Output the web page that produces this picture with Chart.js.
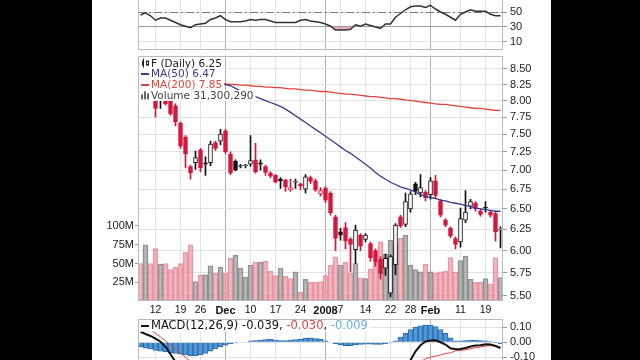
<!DOCTYPE html>
<html>
<head>
<meta charset="utf-8">
<script src="https://cdn.jsdelivr.net/npm/chart.js@4.4.1/dist/chart.umd.min.js"></script>
<style>
html, body { margin: 0; padding: 0; background: #000; width: 640px; height: 360px; overflow: hidden; }
#strip { position: absolute; left: 92px; top: 0; width: 459px; height: 360px; background: #fff; overflow: hidden; }
canvas { position: absolute; left: 0; }
#rsi { top: -35px; }
#price { top: 46px; }
#macd { top: 309px; }
</style>
</head>
<body>
<div id="strip">
  <canvas id="rsi" width="459" height="94"></canvas>
  <canvas id="price" width="459" height="272"></canvas>
  <canvas id="macd" width="459" height="70"></canvas>
</div>
<script>
// trading days, Nov 7 2007 - Feb 22 2008
const days = [
  'Nov 7','Nov 8','Nov 9','Nov 12','Nov 13','Nov 14','Nov 15','Nov 16','Nov 19','Nov 20','Nov 21','Nov 23',
  'Nov 26','Nov 27','Nov 28','Nov 29','Nov 30',
  'Dec 3','Dec 4','Dec 5','Dec 6','Dec 7','Dec 10','Dec 11','Dec 12','Dec 13','Dec 14','Dec 17','Dec 18',
  'Dec 19','Dec 20','Dec 21','Dec 24','Dec 26','Dec 27','Dec 28','Dec 31',
  'Jan 2','Jan 3','Jan 4','Jan 7','Jan 8','Jan 9','Jan 10','Jan 11','Jan 14','Jan 15','Jan 16','Jan 17',
  'Jan 18','Jan 22','Jan 23','Jan 24','Jan 25','Jan 28','Jan 29','Jan 30','Jan 31',
  'Feb 1','Feb 4','Feb 5','Feb 6','Feb 7','Feb 8','Feb 11','Feb 12','Feb 13','Feb 14','Feb 15','Feb 19',
  'Feb 20','Feb 21','Feb 22'
];
const tickDays = ['Nov 12','Nov 19','Nov 26','Dec 3','Dec 10','Dec 17','Dec 24','Jan 2','Jan 7','Jan 14','Jan 22','Jan 28','Feb 1','Feb 11','Feb 19'];
const tickText = ['12','19','26','Dec','10','17','24','2008','7','14','22','28','Feb','11','19'];
const boldTicks = ['Dec','2008','Feb'];

const open = [8.45,8.30,8.30,8.02,8.02,8.02,8.00,7.92,7.66,7.46,7.05,7.10,7.28,7.10,7.10,7.38,7.40,7.55,7.22,7.12,
  7.05,7.06,7.08,7.14,7.10,7.05,6.96,6.93,6.88,6.87,6.74,6.84,6.82,6.75,6.90,6.86,6.69,6.76,6.70,6.40,
  6.22,6.27,6.13,6.01,6.18,6.13,6.08,6.00,5.90,5.80,5.53,5.84,6.40,6.31,6.50,6.82,6.70,6.71,6.68,6.86,
  6.60,6.36,6.26,6.14,6.10,6.36,6.53,6.57,6.47,6.52,6.46,6.44,6.24];
const high = [8.52,8.40,8.35,8.03,8.03,8.03,8.02,7.95,7.68,7.48,7.07,7.26,7.30,7.18,7.40,7.40,7.57,7.57,7.25,7.14,
  7.08,7.08,7.48,7.37,7.14,7.07,6.98,6.94,6.90,6.88,6.88,6.88,6.83,6.94,6.92,6.88,6.77,6.78,6.72,6.42,
  6.26,6.33,6.15,6.30,6.20,6.20,6.10,6.02,5.93,5.96,5.95,6.32,6.42,6.70,6.72,6.84,6.94,6.73,6.90,6.93,
  6.62,6.38,6.28,6.16,6.51,6.73,6.62,6.59,6.50,6.59,6.48,6.46,6.28];
const low = [8.28,8.22,8.05,7.75,7.88,7.93,7.78,7.62,7.30,7.03,6.88,7.01,6.98,6.93,7.06,7.27,7.35,7.23,6.94,6.99,
  7.03,7.03,7.05,6.96,7.00,6.93,6.90,6.83,6.76,6.72,6.72,6.76,6.74,6.70,6.82,6.72,6.66,6.58,6.42,6.00,
  6.12,6.02,5.76,5.85,6.00,6.10,5.88,5.82,5.68,5.72,5.49,5.73,6.27,6.28,6.46,6.68,6.65,6.60,6.62,6.64,
  6.40,6.28,6.15,6.02,6.04,6.33,6.50,6.47,6.41,6.46,6.40,6.11,6.03];
const close = [8.32,8.36,8.10,7.88,8.00,7.95,7.80,7.68,7.33,7.22,6.96,7.17,7.03,7.08,7.36,7.30,7.50,7.25,6.96,7.00,
  7.06,7.07,7.13,6.98,7.08,6.97,6.92,6.84,6.86,6.78,6.77,6.85,6.79,6.91,6.85,6.74,6.73,6.61,6.45,6.14,
  6.18,6.11,6.07,6.24,6.05,6.18,5.92,5.87,5.74,5.91,5.93,6.30,6.29,6.59,6.69,6.72,6.77,6.64,6.86,6.67,
  6.42,6.30,6.17,6.07,6.38,6.46,6.59,6.50,6.43,6.51,6.42,6.22,6.25];
// volume in millions
const volume = [50,75,50,70,49,50,42,45,50,65,75,26,35,35,47,37,45,37,57,61,44,32,48,52,52,53,40,34,44,33,
  30,39,12,29,25,25,26,34,48,59,48,52,37,50,31,30,43,52,79,63,81,75,84,88,48,42,39,49,39,37,
  39,40,58,39,54,60,29,25,25,30,23,58,31.3];
const ma50 = [null,null,null,null,null,null,null,null,null,null,null,null,null,null,
  8.28,8.27,8.26,8.25,8.23,8.19,8.15,8.12,8.09,8.06,8.03,8.00,7.97,7.94,7.91,7.87,7.82,7.77,7.72,7.67,
  7.62,7.57,7.52,7.47,7.42,7.37,7.32,7.27,7.23,7.18,7.13,7.08,7.03,6.97,6.92,6.88,6.84,6.81,6.78,6.76,
  6.74,6.71,6.68,6.66,6.64,6.63,6.61,6.60,6.58,6.57,6.56,6.54,6.53,6.51,6.50,6.49,6.48,6.47,6.47];
const ma200 = [null,null,null,null,null,null,null,null,null,null,null,null,null,null,
  8.27,8.27,8.26,8.26,8.25,8.25,8.24,8.24,8.23,8.22,8.22,8.21,8.21,8.20,8.20,8.19,8.18,8.18,8.17,8.16,
  8.16,8.15,8.14,8.14,8.13,8.12,8.11,8.10,8.10,8.09,8.08,8.07,8.06,8.06,8.05,8.04,8.03,8.03,8.02,8.01,
  8.00,7.99,7.98,7.97,7.96,7.95,7.94,7.94,7.93,7.92,7.91,7.90,7.89,7.88,7.88,7.87,7.86,7.85,7.85];
const rsi = [46,49,45,39,42,42,39,36,33,31,29,33,34,35,40,42,45,40,37,37,37,38,40,39,40,40,38,36,36,36,
  36,36,39,40,38,37,36,34,31,26,26,26,27,33,31,34,32,30,28,34,34,43,48,53,57,58,58,56,59,54,
  50,47,43,39,47,50,53,51,51,51,47,45,45];
const macd = [0.07,0.055,0.042,0.025,0.004,-0.03,-0.08,-0.13,-0.18,-0.22,-0.26,-0.29,-0.31,-0.32,-0.32,-0.32,
  -0.32,-0.32,-0.32,-0.32,-0.31,-0.31,-0.30,-0.30,-0.29,-0.29,-0.29,-0.29,-0.29,-0.29,-0.28,-0.28,-0.27,-0.26,
  -0.26,-0.26,-0.26,-0.27,-0.28,-0.30,-0.31,-0.32,-0.33,-0.33,-0.33,-0.33,-0.34,-0.35,-0.36,-0.36,-0.35,-0.32,
  -0.25,-0.18,-0.12,-0.06,-0.02,0.005,0.012,0.013,0.0,-0.015,-0.04,-0.047,-0.045,-0.038,-0.028,-0.022,-0.02,
  -0.014,-0.015,-0.025,-0.039];
const signal = [0.10,0.09,0.08,0.06,0.035,0.01,-0.02,-0.045,-0.075,-0.10,-0.13,-0.16,-0.19,-0.22,-0.24,-0.26,
  -0.27,-0.28,-0.29,-0.30,-0.30,-0.31,-0.31,-0.31,-0.305,-0.31,-0.31,-0.305,-0.30,-0.30,-0.295,-0.30,-0.29,-0.29,
  -0.29,-0.285,-0.28,-0.28,-0.28,-0.29,-0.29,-0.30,-0.31,-0.31,-0.315,-0.32,-0.33,-0.335,-0.345,-0.35,-0.345,
  -0.33,-0.285,-0.24,-0.205,-0.16,-0.13,-0.11,-0.10,-0.092,-0.085,-0.075,-0.07,-0.057,-0.055,-0.05,-0.043,
  -0.037,-0.032,-0.026,-0.022,-0.024,-0.030];
const hist = [-0.03,-0.04,-0.045,-0.055,-0.06,-0.065,-0.07,-0.075,-0.08,-0.085,-0.09,-0.09,-0.085,-0.075,-0.06,
  -0.045,-0.03,-0.02,-0.01,-0.005,0.0,0.0,0.01,0.012,0.015,0.018,0.02,0.015,0.012,0.012,0.015,0.018,0.022,
  0.028,0.03,0.025,0.02,0.01,0.0,-0.01,-0.018,-0.022,-0.022,-0.018,-0.015,-0.012,-0.012,-0.015,-0.015,-0.01,
  -0.005,0.01,0.035,0.06,0.085,0.1,0.11,0.115,0.115,0.105,0.085,0.06,0.03,0.01,0.01,0.012,0.015,0.015,0.012,
  0.01,0.005,-0.002,-0.009];

Chart.defaults.font.family = '"Liberation Sans", Arial, sans-serif';
Chart.defaults.font.size = 11;
Chart.defaults.color = '#222';
Chart.defaults.animation = false;
Chart.defaults.plugins.legend.display = false;
Chart.defaults.plugins.tooltip.enabled = false;

const tickIdx = tickDays.map(d => days.indexOf(d));
const isUp = close.map((c, i) => i === 0 ? c >= open[0] : c >= close[i - 1]);
const ink = isUp.map(u => u ? '#111' : '#d4163c');
const bodyFill = close.map((c, i) => c > open[i] ? '#fff' : ink[i]);

function xAxis(labels) {
  return {
    type: 'category',
    offset: true,
    border: { display: false },
    grid: {
      offset: false,
      drawTicks: false,
      color: c => boldTicks.includes(tickText[c.index]) ? '#b0b0b0' : '#e2e2e2'
    },
    ticks: {
      display: labels,
      autoSkip: false,
      maxRotation: 0,
      padding: 3,
      color: '#111',
      callback: (v, k) => tickText[k],
      font: c => boldTicks.includes(tickText[c.index]) ? { size: 11, weight: 'bold' } : { size: 10.5 }
    },
    afterBuildTicks: s => { s.ticks = tickIdx.map(i => ({ value: i })); },
    afterFit: s => { s.height = labels ? 17 : 0; }
  };
}

function rightAxis(tickVals, fmt, extra) {
  return Object.assign({
    position: 'right',
    border: { display: false },
    grid: { color: '#e2e2e2', tickLength: 4, tickColor: '#999' },
    ticks: { padding: 3, autoSkip: false, font: { size: 11 }, callback: fmt },
    afterBuildTicks: s => { s.ticks = tickVals.map(v => ({ value: v })); },
    afterFit: s => { s.width = 48; }
  }, extra);
}

const frame = {
  id: 'frame',
  afterDraw(chart) {
    const a = chart.chartArea, ctx = chart.ctx;
    ctx.save();
    ctx.strokeStyle = '#bbb';
    ctx.lineWidth = 1;
    ctx.strokeRect(Math.round(a.left) + 0.5, Math.round(a.top) + 0.5, Math.round(a.right - a.left) - 1, Math.round(a.bottom - a.top) - 1);
    ctx.restore();
  }
};

// RSI panel
const rsiMid = {
  id: 'rsiMid',
  beforeDatasetsDraw(chart) {
    const ctx = chart.ctx, a = chart.chartArea;
    const y = Math.round(chart.scales.y.getPixelForValue(50)) + 0.5;
    ctx.save();
    ctx.strokeStyle = '#777';
    ctx.setLineDash([8, 3, 2, 3]);
    ctx.beginPath(); ctx.moveTo(a.left, y); ctx.lineTo(a.right, y); ctx.stroke();
    ctx.restore();
  }
};

const rsiY = rightAxis([10, 30, 50, 70, 90], v => v, { min: 0, max: 100 });
rsiY.grid.color = c => (c.tick && (c.tick.value === 30 || c.tick.value === 70)) ? '#999' : '#e2e2e2';

new Chart(document.getElementById('rsi'), {
  type: 'line',
  data: {
    labels: days,
    datasets: [{
      data: rsi,
      borderColor: '#333',
      borderWidth: 1.5,
      pointRadius: 0,
      tension: 0,
      fill: { target: { value: 30 }, above: 'rgba(0,0,0,0)', below: 'rgba(225,120,140,0.6)' }
    }]
  },
  options: {
    responsive: false,
    devicePixelRatio: 1,
    layout: { padding: { left: 46 } },
    scales: { x: xAxis(false), y: rsiY }
  },
  plugins: [rsiMid, frame]
});

// price + volume panel
const legendRows = [
  { text: 'F (Daily) 6.25', color: '#222', icon: 'candle' },
  { text: 'MA(50) 6.47', color: '#3a3a90', icon: 'line' },
  { text: 'MA(200) 7.85', color: '#e0453c', icon: 'line' },
  { text: 'Volume 31,300,290', color: '#444', icon: 'bars' }
];

const priceLegend = {
  id: 'priceLegend',
  afterDatasetsDraw(chart) {
    const ctx = chart.ctx, a = chart.chartArea;
    ctx.save();
    ctx.font = '10.5px "DejaVu Sans", sans-serif';
    ctx.textBaseline = 'middle';
    legendRows.forEach((r, k) => {
      const y = a.top + 8 + k * 10.6;
      const w = ctx.measureText(r.text).width;
      ctx.fillStyle = '#fff';
      ctx.fillRect(a.left + 1, y - 5.5, w + 14, 11);
      const x0 = a.left + 3;
      if (r.icon === 'line') {
        ctx.fillStyle = r.color;
        ctx.fillRect(x0, Math.round(y) - 1, 8, 2);
      } else if (r.icon === 'candle') {
        ctx.fillStyle = '#222';
        ctx.fillRect(x0 + 1, y - 3, 2, 5);
        ctx.fillRect(x0 + 2, y - 5, 1, 9);
        ctx.strokeStyle = '#222';
        ctx.strokeRect(x0 + 5.5, y - 2.5, 2, 4);
      } else {
        ctx.fillStyle = '#666';
        ctx.fillRect(x0, y - 1, 2, 5);
        ctx.fillRect(x0 + 3, y - 4, 2, 8);
        ctx.fillRect(x0 + 6, y - 2, 2, 6);
      }
      ctx.fillStyle = r.color;
      ctx.fillText(r.text, a.left + 13, y + 0.5);
    });
    ctx.restore();
  }
};

new Chart(document.getElementById('price'), {
  data: {
    labels: days,
    datasets: [
      {
        type: 'line', data: ma50, yAxisID: 'y', order: 0,
        borderColor: '#3a3a90', borderWidth: 1.3, pointRadius: 0
      },
      {
        type: 'line', data: ma200, yAxisID: 'y', order: 0,
        borderColor: '#e0453c', borderWidth: 1.3, pointRadius: 0
      },
      {
        type: 'bar', yAxisID: 'y', order: 2, grouped: false,
        data: open.map((o, i) => [o, close[i]]),
        backgroundColor: bodyFill, borderColor: ink, borderWidth: 1,
        borderSkipped: false, barThickness: 4, minBarLength: 1
      },
      {
        type: 'bar', yAxisID: 'y', order: 3, grouped: false,
        data: low.map((l, i) => [l, high[i]]),
        backgroundColor: ink, borderWidth: 0, barThickness: 1
      },
      {
        type: 'bar', yAxisID: 'vol', order: 10, grouped: false,
        data: volume,
        backgroundColor: isUp.map(u => u ? 'rgba(150,150,150,0.65)' : 'rgba(236,140,155,0.6)'),
        borderColor: isUp.map(u => u ? 'rgba(120,120,120,0.8)' : 'rgba(220,115,130,0.7)'),
        borderWidth: 1, borderSkipped: false, barPercentage: 1, categoryPercentage: 1
      }
    ]
  },
  options: {
    responsive: false,
    devicePixelRatio: 1,
    scales: {
      x: xAxis(true),
      y: rightAxis([5.5, 5.75, 6, 6.25, 6.5, 6.75, 7, 7.25, 7.5, 7.75, 8, 8.25, 8.5],
        v => Number(v).toFixed(2), { type: 'logarithmic', min: 5.447, max: 8.72 }),
      vol: {
        position: 'left', min: 0, max: 327,
        border: { display: false },
        grid: { drawOnChartArea: false, tickLength: 3, tickColor: '#999' },
        ticks: { padding: 1, autoSkip: false, font: { size: 11 }, callback: v => v + 'M' },
        afterBuildTicks: s => { s.ticks = [25, 50, 75, 100].map(v => ({ value: v })); },
        afterFit: s => { s.width = 46; }
      }
    }
  },
  plugins: [priceLegend, frame]
});

// MACD panel
const macdLegend = {
  id: 'macdLegend',
  afterDatasetsDraw(chart) {
    const ctx = chart.ctx, a = chart.chartArea;
    ctx.save();
    ctx.font = '11.5px "DejaVu Sans", sans-serif';
    ctx.textBaseline = 'middle';
    const parts = [
      { t: 'MACD(12,26,9) -0.039', c: '#111' }, { t: ', ', c: '#111' },
      { t: '-0.030', c: '#e0453c' }, { t: ', ', c: '#111' },
      { t: '-0.009', c: '#66b3e0' }
    ];
    const y = a.top + 7;
    let x = a.left + 13;
    const total = parts.reduce((s, p) => s + ctx.measureText(p.t).width, 0);
    ctx.fillStyle = '#fff';
    ctx.fillRect(a.left + 1, y - 6, total + 14, 12);
    ctx.fillStyle = '#111';
    ctx.fillRect(a.left + 3, Math.round(y) - 1, 8, 2);
    parts.forEach(p => {
      ctx.fillStyle = p.c;
      ctx.fillText(p.t, x, y + 0.5);
      x += ctx.measureText(p.t).width;
    });
    ctx.restore();
  }
};

new Chart(document.getElementById('macd'), {
  data: {
    labels: days,
    datasets: [
      { type: 'line', data: macd, order: 1, borderColor: '#111', borderWidth: 2, pointRadius: 0 },
      { type: 'line', data: signal, order: 2, borderColor: '#e0453c', borderWidth: 1, pointRadius: 0 },
      {
        type: 'bar', data: hist, order: 3,
        backgroundColor: '#4f98d6', borderColor: '#2a68a8', borderWidth: 1,
        barPercentage: 1, categoryPercentage: 1
      }
    ]
  },
  options: {
    responsive: false,
    devicePixelRatio: 1,
    layout: { padding: { left: 46 } },
    scales: {
      x: xAxis(false),
      y: rightAxis([-0.2, -0.1, 0, 0.1], v => Number(v).toFixed(2), { min: -0.181, max: 0.158 })
    }
  },
  plugins: [macdLegend, frame]
});
</script>
</body>
</html>
